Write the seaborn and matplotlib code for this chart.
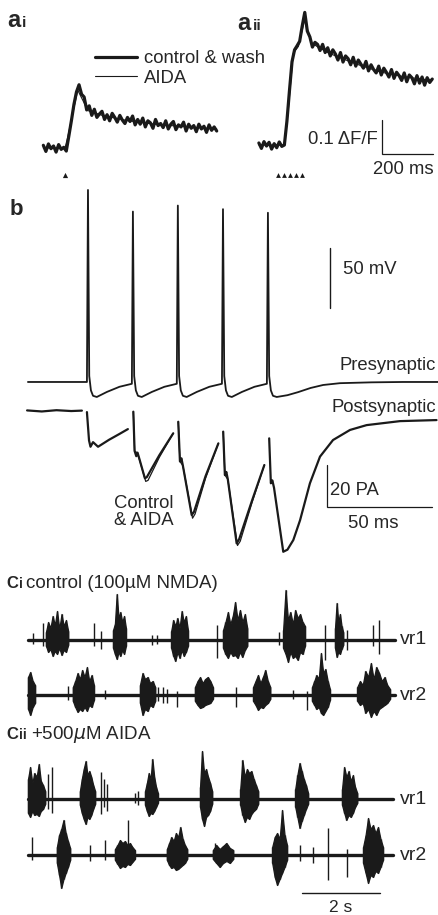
import numpy as np
import pandas as pd
import matplotlib
matplotlib.use('Agg')
import matplotlib.pyplot as plt
import seaborn as sns

# ---------- datos ----------
# a: transitorios de Ca (dF/F), muestreo cada 10 ms
dt_ca = 10
ai_t0 = -85
ai_ctrl = [0.008, -0.01, 0.012, -0.002, 0.006, -0.012, 0.01, -0.004, 0.002, -0.009,
           0.035, 0.08, 0.128, 0.165, 0.186, 0.158, 0.15, 0.112, 0.124, 0.096,
           0.114, 0.09, 0.1, 0.108, 0.084, 0.098, 0.08, 0.102, 0.09, 0.076,
           0.096, 0.082, 0.072, 0.09, 0.078, 0.094, 0.068, 0.084, 0.07, 0.088,
           0.062, 0.08, 0.074, 0.058, 0.084, 0.066, 0.072, 0.06, 0.08, 0.056,
           0.07, 0.078, 0.054, 0.068, 0.062, 0.076, 0.05, 0.07, 0.058, 0.066,
           0.048, 0.07, 0.056, 0.064, 0.046, 0.068, 0.052, 0.062, 0.05]
ai_aida_t = [-85, -40, 0, 10, 50, 90, 150, 250, 350, 450, 595]
ai_aida = [0, 0, 0, 0.03, 0.17, 0.11, 0.095, 0.08, 0.07, 0.064, 0.056]
ai_stim = [0]

aii_t0 = -75
aii_ctrl = [0.006, -0.01, 0.01, -0.003, 0.008, -0.012, 0.004, -0.008, 0.009, -0.004,
            0.0, 0.07, 0.16, 0.245, 0.28, 0.292, 0.305, 0.35, 0.39, 0.335,
            0.318, 0.288, 0.302, 0.296, 0.278, 0.296, 0.272, 0.286, 0.262, 0.28,
            0.268, 0.25, 0.272, 0.244, 0.262, 0.254, 0.236, 0.258, 0.232, 0.25,
            0.238, 0.226, 0.246, 0.218, 0.236, 0.222, 0.212, 0.232, 0.206, 0.226,
            0.214, 0.2, 0.222, 0.196, 0.214, 0.204, 0.19, 0.212, 0.186, 0.206,
            0.198, 0.18, 0.204, 0.182, 0.2, 0.176, 0.198, 0.184, 0.194]
aii_aida_t = [-75, 25, 40, 60, 80, 105, 130, 200, 300, 400, 500, 605]
aii_aida = [0, 0, 0.1, 0.27, 0.29, 0.37, 0.3, 0.27, 0.24, 0.215, 0.2, 0.19]
aii_stim = [0, 24, 47, 71, 94]

# b: presinaptico (mV) y postsinaptico (pA)
pre_t = [-28.6, -0.5, 0.0, 0.6, 1.4, 2.4, 4.2, 9.0, 15.0, 20.9,
         21.4, 22.0, 22.8, 23.8, 25.6, 30.4, 36.4, 42.3,
         42.8, 43.4, 44.2, 45.2, 47.0, 51.8, 57.8, 63.8,
         64.3, 64.9, 65.7, 66.7, 68.5, 73.3, 79.3, 85.2,
         85.7, 86.3, 87.1, 88.1, 89.9, 95.0, 100.0, 106.0, 112.0, 120.0, 135.0, 150.0, 166.7]
pre_v = [-65, -65, 95, -60, -72, -76.5, -77.5, -73.3, -69, -66.5,
         77, -60, -72, -76.5, -77.5, -73.3, -69, -66.5,
         82, -60, -72, -76.5, -77.5, -73.3, -69, -66.5,
         79, -60, -72, -76.5, -77.5, -73.3, -69, -66.5,
         76, -60, -72, -76.5, -77.5, -76, -73.5, -70, -67.5, -66, -65.3, -65, -65]

post_ctrl_t = [[-29, -22, -15, -8, -2.9],
               [-0.5, 0.5, 1.2, 2.4, 4.8, 10, 15, 19],
               [21.6, 22.2, 23.0, 23.6, 24.4, 27.1, 28.0, 34.0, 40.6],
               [43.0, 43.8, 44.5, 45.2, 49.4, 50.5, 56, 62.1],
               [64.4, 65.2, 65.9, 66.6, 70.8, 72, 78, 84],
               [86.3, 87.1, 87.8, 88.6, 93, 95, 97.8, 101, 105.7, 110.5, 116.7, 124.8, 132.7, 148.6, 166]]
post_ctrl_i = [[0.3, -0.2, 0.4, 0.0, 0.2],
               [-0.5, -14, -17, -14.8, -17, -13.7, -10.9, -8.6],
               [-0.3, -19, -21.5, -19.8, -22.5, -32, -31.5, -21, -10.6],
               [-5.1, -24, -22.5, -26, -49.5, -48, -31, -15.4],
               [-9.8, -30.5, -29, -32.5, -63, -61, -43, -25.7],
               [-13, -34.4, -33, -36.5, -67, -66, -61.4, -52, -34.4, -21.7, -13.8, -9, -6.7, -4.8, -4.3]]
post_aida_t = [[21.6, 22.2, 23.6, 27.5, 28.6, 34.0, 40.6],
               [43.0, 43.8, 45.2, 49.8, 51, 56, 62.1],
               [64.4, 65.2, 66.6, 71.2, 72.5, 78, 84]]
post_aida_i = [[-0.3, -19, -20, -33.5, -33, -22, -10.6],
               [-5.1, -24, -26, -51, -49, -32, -15.4],
               [-9.8, -30.5, -32.5, -64, -62, -44, -25.7]]

# C: raices ventrales
# rafagas: (inicio s, fin s, picos arriba, picos abajo)
ci_vr1_bursts = [(0.46, 1.03, [8, 18, 12, 24, 15, 29, 11, 26, 14, 20, 9], [6, 12, 9, 16, 11, 14, 8, 15, 10, 12, 5]),
                 (2.18, 2.51, [10, 16, 46, 22, 28, 18, 24, 12], [8, 14, 19, 12, 16, 10, 14, 6]),
                 (3.67, 4.10, [9, 20, 14, 22, 12, 29, 18, 24, 10], [8, 16, 21, 12, 18, 10, 16, 12, 6]),
                 (5.00, 5.62, [10, 18, 28, 16, 24, 38, 20, 30, 18, 26, 12], [8, 14, 18, 12, 16, 15, 18, 12, 17, 10, 6]),
                 (6.54, 7.10, [10, 50, 20, 28, 16, 30, 22, 26, 18, 14], [8, 14, 22, 12, 18, 16, 20, 12, 14, 6]),
                 (7.87, 8.08, [12, 37, 18, 26, 14, 8], [8, 17, 12, 14, 9, 5])]
ci_vr1_spk_t = [0.13, 0.38, 1.69, 1.87, 3.18, 3.31, 4.85, 6.44, 7.62, 8.18, 8.85, 9.0]
ci_vr1_spk_up = [7, 17, 17, 9, 5, 5, 15, 8, 15, 10, 15, 20]
ci_vr1_spk_dn = [4, 6, 6, 9, 5, 4, 18, 5, 20, 10, 6, 14]

ci_vr2_bursts = [(0.00, 0.18, [18, 23, 14, 10], [14, 20, 12, 8]),
                 (1.15, 1.69, [8, 14, 22, 16, 25, 18, 28, 14, 20, 10], [6, 12, 17, 14, 16, 12, 16, 10, 12, 5]),
                 (2.87, 3.26, [10, 22, 16, 18, 12, 14, 8], [8, 20, 14, 16, 10, 12, 6]),
                 (4.28, 4.74, [8, 14, 18, 12, 16, 18, 14, 8], [6, 10, 13, 12, 10, 9, 8, 4]),
                 (5.77, 6.21, [8, 14, 20, 12, 18, 25, 14, 8], [6, 10, 15, 12, 13, 10, 8, 4]),
                 (7.28, 7.74, [8, 14, 20, 16, 42, 22, 26, 14, 6], [6, 10, 14, 12, 18, 20, 16, 12, 5]),
                 (8.44, 9.28, [8, 14, 10, 24, 18, 32, 16, 28, 22, 14, 18, 10, 6], [6, 10, 8, 18, 14, 22, 16, 20, 14, 12, 10, 8, 4])]
ci_vr2_spk_t = [1.03, 1.97, 3.33, 3.46, 3.56, 3.82, 5.33, 6.79, 7.15]
ci_vr2_spk_up = [9, 5, 8, 8, 6, 4, 8, 5, 4]
ci_vr2_spk_dn = [5, 4, 6, 8, 8, 12, 12, 4, 15]

cii_vr1_bursts = [(0.00, 0.44, [20, 32, 16, 26, 22, 35, 18, 14, 8], [14, 18, 12, 16, 15, 17, 12, 10, 5]),
                  (1.33, 1.72, [8, 20, 30, 38, 24, 28, 22, 14, 8], [6, 14, 20, 25, 18, 20, 16, 10, 5]),
                  (3.00, 3.33, [8, 16, 26, 20, 40, 22, 12, 6], [6, 12, 17, 14, 15, 12, 8, 4]),
                  (4.41, 4.72, [12, 48, 26, 30, 22, 16, 8], [8, 20, 27, 18, 16, 12, 5]),
                  (5.44, 5.90, [10, 39, 22, 30, 26, 28, 20, 14, 8], [6, 16, 23, 18, 20, 15, 12, 10, 5]),
                  (6.85, 7.18, [10, 24, 36, 28, 20, 14, 6], [8, 18, 29, 22, 16, 10, 5]),
                  (8.05, 8.44, [10, 32, 22, 28, 18, 24, 12, 6], [6, 14, 21, 16, 18, 14, 8, 4])]
cii_vr1_spk_t = [0.51, 0.62, 1.87, 1.95, 2.03, 2.74, 2.82]
cii_vr1_spk_up = [25, 32, 27, 20, 15, 6, 8]
cii_vr1_spk_dn = [10, 14, 15, 8, 12, 4, 6]

cii_vr2_bursts = [(0.74, 1.08, [8, 20, 26, 35, 22, 14, 7], [8, 20, 33, 24, 18, 12, 5]),
                  (2.23, 2.74, [6, 10, 15, 12, 14, 10, 12, 8, 5], [5, 9, 13, 11, 12, 9, 10, 7, 4]),
                  (3.56, 4.08, [6, 12, 18, 14, 22, 18, 28, 16, 10, 6], [5, 10, 13, 12, 15, 14, 12, 10, 8, 4]),
                  (4.74, 5.26, [5, 10, 6, 9, 12, 7, 5], [4, 8, 12, 8, 6, 8, 4]),
                  (6.26, 6.64, [8, 18, 22, 16, 45, 20, 10], [8, 22, 30, 24, 18, 12, 5]),
                  (8.59, 9.10, [8, 20, 37, 26, 30, 22, 28, 16, 8], [8, 18, 28, 20, 22, 16, 18, 12, 5])]
cii_vr2_spk_t = [0.10, 1.59, 1.97, 2.56, 4.79, 6.97, 7.31, 7.69, 8.18]
cii_vr2_spk_up = [18, 10, 15, 35, 12, 10, 8, 27, 6]
cii_vr2_spk_dn = [5, 6, 5, 8, 6, 6, 8, 25, 22]

ci_len, cii_len = 9.41, 9.36

# ---------- figura ----------
sns.set_theme(style='white')
plt.rcParams['font.family'] = ['Liberation Sans', 'DejaVu Sans']
FS = 13.3

W, H = 438, 915
fig = plt.figure(figsize=(W / 100, H / 100), dpi=100)
fig.patch.set_facecolor('white')


def panel(x0, y0, x1, y1, xlim, ylim):
    ax = fig.add_axes([x0 / W, 1 - y1 / H, (x1 - x0) / W, (y1 - y0) / H])
    ax.set_xlim(*xlim)
    ax.set_ylim(*ylim)
    ax.axis('off')
    ax.patch.set_alpha(0)
    return ax


def texto(x, y, s, **kw):
    kw.setdefault('fontsize', FS)
    fig.text(x / W, 1 - y / H, s, **kw)


# --- a ---
ax_ai = panel(30, 0, 225, 185, (-137.3, 627.5), (-0.1088, 0.4353))
t_ai = ai_t0 + dt_ca * np.arange(len(ai_ctrl))
sns.lineplot(x=t_ai, y=ai_ctrl, ax=ax_ai, color='k', lw=2.3, label='control & wash')
sns.lineplot(x=ai_aida_t, y=ai_aida, ax=ax_ai, color='k', lw=0.8, label='AIDA')
sns.scatterplot(x=ai_stim, y=[-0.079] * len(ai_stim), ax=ax_ai, marker='^', s=14, color='k', linewidth=0)
ax_ai.legend(loc='upper left', bbox_to_anchor=(95 / W, 1 - 50 / H), bbox_transform=fig.transFigure,
             frameon=False, fontsize=FS, handlelength=2.3, handletextpad=0.35, labelspacing=0.15,
             borderpad=0, borderaxespad=0)

ax_aii = panel(240, 0, 438, 185, (-149.0, 627.5), (-0.1176, 0.4265))
t_aii = aii_t0 + dt_ca * np.arange(len(aii_ctrl))
sns.lineplot(x=t_aii, y=aii_ctrl, ax=ax_aii, color='k', lw=2.3)
sns.lineplot(x=aii_aida_t, y=aii_aida, ax=ax_aii, color='k', lw=0.8)
sns.scatterplot(x=aii_stim, y=[-0.088] * len(aii_stim), ax=ax_aii, marker='^', s=12, color='k', linewidth=0)
# barra de escala 0.1 dF/F, 200 ms
ax_aii.plot([408, 408, 608], [0.074, -0.026, -0.026], color='k', lw=0.9, solid_joinstyle='miter')

texto(7, 27, 'a', fontsize=17, fontweight='bold', va='baseline')
texto(22, 27, 'i', fontsize=11, fontweight='bold', va='baseline')
texto(237, 30, 'a', fontsize=17, fontweight='bold', va='baseline')
texto(253, 30, 'ii', fontsize=11, fontweight='bold', va='baseline')
texto(378, 140, '0.1 ΔF/F', ha='right', va='center')
texto(403, 170, '200 ms', ha='center', va='center')

# --- b ---
ax_pre = panel(0, 180, 438, 565, (-41.9, 166.7), (-217.5, 103.3))
sns.lineplot(x=pre_t, y=pre_v, ax=ax_pre, color='k', lw=1.3, sort=False)
ax_pre.plot([115.2, 115.2], [-3.3, 46.7], color='k', lw=1.0)

ax_post = panel(0, 180, 438, 565, (-41.9, 166.7), (-73.3, 110))
post_ctrl = pd.DataFrame({'t': [v for s in post_ctrl_t for v in s],
                          'pA': [v for s in post_ctrl_i for v in s],
                          'seg': [k for k, s in enumerate(post_ctrl_t) for _ in s]})
post_aida = pd.DataFrame({'t': [v for s in post_aida_t for v in s],
                          'pA': [v for s in post_aida_i for v in s],
                          'seg': [k for k, s in enumerate(post_aida_t) for _ in s]})
sns.lineplot(data=post_ctrl, x='t', y='pA', units='seg', estimator=None, sort=False,
             ax=ax_post, color='k', lw=1.6)
sns.lineplot(data=post_aida, x='t', y='pA', units='seg', estimator=None, sort=False,
             ax=ax_post, color='k', lw=0.9)
ax_post.plot([113.8, 113.8, 163.8], [-25.7, -45.7, -45.7], color='k', lw=0.9, solid_joinstyle='miter')

texto(10, 215, 'b', fontsize=16, fontweight='bold', va='baseline')
texto(343, 270, '50 mV', va='center')
texto(436, 366, 'Presynaptic', ha='right', va='center')
texto(436, 407, 'Postsynaptic', ha='right', va='center')
texto(114, 512, 'Control\n& AIDA', va='center', linespacing=1.0)
texto(330, 490, '20 PA', va='center')
texto(373, 523, '50 ms', ha='center', va='center')


# --- C ---
def raiz(ax, largo, off, rafagas, spk_t, spk_up, spk_dn):
    sns.lineplot(x=[0, largo], y=[off, off], ax=ax, color='k', lw=2.4)
    for t0, t1, arriba, abajo in rafagas:
        xs = np.linspace(t0, t1, len(arriba))
        ax.fill_between(xs, off - np.array(abajo), off + np.array(arriba), color='k', lw=0.9)
        ax.vlines(xs, off - np.array(abajo), off + np.array(arriba), color='k', lw=1.0)
    ax.vlines(spk_t, off - np.array(spk_dn), off + np.array(spk_up), color='k', lw=1.0)


ax_ci = panel(0, 585, 438, 735, (-0.718, 10.51), (-95, 55))
raiz(ax_ci, ci_len, 0, ci_vr1_bursts, ci_vr1_spk_t, ci_vr1_spk_up, ci_vr1_spk_dn)
raiz(ax_ci, ci_len, -55, ci_vr2_bursts, ci_vr2_spk_t, ci_vr2_spk_up, ci_vr2_spk_dn)

ax_cii = panel(0, 740, 438, 915, (-0.718, 10.51), (-116, 59))
raiz(ax_cii, cii_len, 0, cii_vr1_bursts, cii_vr1_spk_t, cii_vr1_spk_up, cii_vr1_spk_dn)
raiz(ax_cii, cii_len, -56, cii_vr2_bursts, cii_vr2_spk_t, cii_vr2_spk_up, cii_vr2_spk_dn)
ax_cii.plot([7.03, 9.03], [-94, -94], color='k', lw=1.0)

texto(6, 588, 'C', fontsize=12, fontweight='bold', va='baseline')
texto(19.5, 588, 'i', fontsize=10, fontweight='bold', va='baseline')
texto(26, 588, 'control (100µM NMDA)', fontsize=13.5, va='baseline')
texto(6, 739, 'C', fontsize=12, fontweight='bold', va='baseline')
texto(19.5, 739, 'ii', fontsize=10, fontweight='bold', va='baseline')
texto(31, 739, '+500$\\mu$M AIDA', fontsize=13.5, va='baseline')
for y, s in [(640, 'vr1'), (695, 'vr2'), (799, 'vr1'), (855, 'vr2')]:
    texto(400, y, s, fontsize=14, va='center')
texto(341, 907, '2 s', ha='center', va='center', fontsize=12.5)

fig.savefig('out.png', dpi=100, facecolor='white')
